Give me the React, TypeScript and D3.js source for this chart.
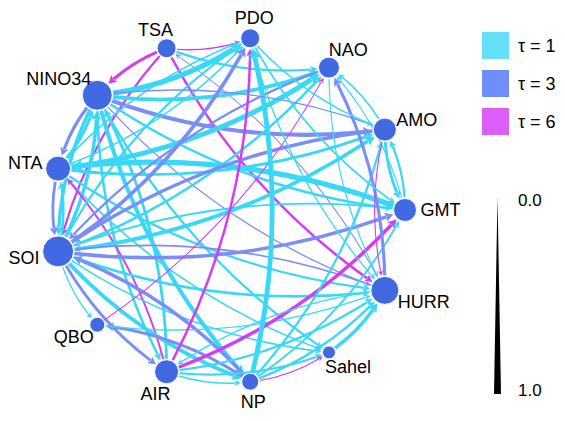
import { useEffect, useRef } from 'react'
import * as d3 from 'd3'

const WIDTH = 565
const HEIGHT = 421
const FONT = '"Liberation Sans", Arial, sans-serif'

// nodes, clockwise starting at 3 o'clock
const nodeNames = ['GMT', 'HURR', 'Sahel', 'NP', 'AIR', 'QBO', 'SOI', 'NTA', 'NINO34', 'TSA', 'PDO', 'NAO', 'AMO']
const nodeSize = [11.5, 14, 6.5, 8.5, 12, 7.5, 15.5, 12.5, 15, 9.5, 9.5, 10.5, 11.5]

const lags = [1, 3, 6]
const lagLabels = ['τ = 1', 'τ = 3', 'τ = 6']
const edgeColors = ['#3ad8f7', '#7b8ef8', '#d63df1']
const legendColors = ['#65dffa', '#6f8efb', '#dc5ef9']
const widthTicks = ['0.0', '1.0']

// [source, target, lag, strength]
const links: [string, string, number, number][] = [
  ['TSA', 'NINO34', 6, 0.45],
  ['TSA', 'PDO', 6, 0.15],
  ['TSA', 'NAO', 1, 0.3],
  ['TSA', 'HURR', 6, 0.35],
  ['TSA', 'SOI', 6, 0.3],
  ['HURR', 'TSA', 3, 0.1],
  ['NINO34', 'NTA', 3, 0.45],
  ['NINO34', 'PDO', 1, 0.8],
  ['NINO34', 'NAO', 1, 0.55],
  ['NINO34', 'AMO', 3, 0.6],
  ['NINO34', 'GMT', 1, 0.35],
  ['NINO34', 'HURR', 3, 0.15],
  ['NINO34', 'NP', 1, 0.6],
  ['NINO34', 'Sahel', 1, 0.3],
  ['NINO34', 'AIR', 1, 0.35],
  ['NINO34', 'SOI', 1, 0.5],
  ['SOI', 'NINO34', 1, 0.5],
  ['AIR', 'NINO34', 1, 0.4],
  ['NTA', 'SOI', 3, 0.4],
  ['SOI', 'NTA', 1, 0.35],
  ['NTA', 'NAO', 1, 0.75],
  ['GMT', 'NTA', 1, 0.8],
  ['NTA', 'AMO', 1, 0.4],
  ['NTA', 'HURR', 1, 0.3],
  ['NTA', 'PDO', 1, 0.2],
  ['NTA', 'NINO34', 1, 0.45],
  ['NTA', 'Sahel', 1, 0.2],
  ['AIR', 'NTA', 6, 0.25],
  ['PDO', 'NTA', 1, 0.2],
  ['SOI', 'PDO', 3, 0.55],
  ['SOI', 'QBO', 1, 0.15],
  ['SOI', 'NP', 1, 0.55],
  ['SOI', 'HURR', 1, 0.35],
  ['SOI', 'GMT', 3, 0.5],
  ['SOI', 'AMO', 1, 0.55],
  ['SOI', 'NAO', 1, 0.35],
  ['SOI', 'AIR', 3, 0.4],
  ['SOI', 'Sahel', 1, 0.2],
  ['AMO', 'SOI', 3, 0.5],
  ['GMT', 'SOI', 1, 0.25],
  ['NP', 'SOI', 3, 0.5],
  ['HURR', 'SOI', 3, 0.2],
  ['NAO', 'SOI', 3, 0.3],
  ['PDO', 'SOI', 1, 0.3],
  ['NP', 'QBO', 3, 0.45],
  ['QBO', 'NAO', 6, 0.1],
  ['QBO', 'HURR', 1, 0.15],
  ['AIR', 'PDO', 6, 0.35],
  ['AIR', 'GMT', 6, 0.5],
  ['AIR', 'HURR', 1, 0.3],
  ['AIR', 'Sahel', 1, 0.3],
  ['AIR', 'NP', 1, 0.2],
  ['HURR', 'AIR', 1, 0.15],
  ['NP', 'PDO', 1, 0.75],
  ['NP', 'Sahel', 6, 0.1],
  ['NP', 'HURR', 1, 0.3],
  ['NP', 'AMO', 1, 0.3],
  ['NP', 'GMT', 1, 0.25],
  ['Sahel', 'HURR', 1, 0.5],
  ['HURR', 'NAO', 3, 0.45],
  ['AMO', 'NAO', 1, 0.2],
  ['GMT', 'NAO', 1, 0.12],
  ['AMO', 'GMT', 1, 0.4],
  ['GMT', 'AMO', 1, 0.3],
  ['AMO', 'HURR', 6, 0.12],
  ['AMO', 'NINO34', 3, 0.15],
  ['PDO', 'HURR', 1, 0.15],
  ['NAO', 'HURR', 1, 0.12],
  ['PDO', 'GMT', 1, 0.2],
  ['PDO', 'AMO', 1, 0.2],
]

const CURVE = 2 // arc radius as a multiple of the chord

export default function App() {
  const svgRef = useRef<SVGSVGElement>(null)

  useEffect(() => {
    const svg = d3.select(svgRef.current)
    svg.selectAll('*').remove()

    const cx = 229
    const cy = 210
    const rx = 176
    const ry = 173

    const angle = d3.scaleLinear().domain([0, nodeNames.length]).range([0, 2 * Math.PI])
    const radius = d3.scaleLinear().domain([0, 1]).range([0, 1])
    const width = d3.scaleLinear().domain([0, 1]).range([0.4, 6.5])
    const color = d3.scaleOrdinal<number, string>().domain(lags).range(edgeColors)

    const nodes = nodeNames.map((name, i) => {
      const a = angle(i)
      return { name, a, r: radius(nodeSize[i]), x: cx + rx * Math.cos(a), y: cy + ry * Math.sin(a) }
    })
    const byName = new Map(nodes.map((n) => [n.name, n]))

    // Edges
    const gEdges = svg.append('g')
    links.forEach(([s, t, lag, v]) => {
      const p0 = byName.get(s)!
      const p1 = byName.get(t)!
      const w = width(v)
      const dx = p1.x - p0.x
      const dy = p1.y - p0.y
      const d = Math.hypot(dx, dy)
      const R = d * CURVE
      const nx = -dy / d
      const ny = dx / d
      const h = Math.sqrt(R * R - (d * d) / 4)
      const ox = (p0.x + p1.x) / 2 - nx * h
      const oy = (p0.y + p1.y) / 2 - ny * h
      const a0 = Math.atan2(p0.y - oy, p0.x - ox)
      const a1 = Math.atan2(p1.y - oy, p1.x - ox)
      let da = a1 - a0
      while (da > Math.PI) da -= 2 * Math.PI
      while (da < -Math.PI) da += 2 * Math.PI
      const sg = Math.sign(da)
      const headLen = 4 + 1.3 * w
      const hw = 1.8 + 0.85 * w
      const pt = (a: number): [number, number] => [ox + R * Math.cos(a), oy + R * Math.sin(a)]
      const tStart = a0 + (sg * (p0.r + 1)) / R
      const tTip = a1 - (sg * (p1.r + 1)) / R
      const tBase = tTip - (sg * headLen) / R
      const [x0, y0] = pt(tStart)
      const [xb, yb] = pt(tBase + (sg * 1) / R)
      const [xt, yt] = pt(tTip)
      const [xh, yh] = pt(tBase)
      const c = color(lag)

      gEdges
        .append('path')
        .attr('d', `M${x0},${y0}A${R},${R} 0 0,${sg > 0 ? 1 : 0} ${xb},${yb}`)
        .attr('fill', 'none')
        .attr('stroke', c)
        .attr('stroke-width', w)

      const ux = (xt - xh) / headLen
      const uy = (yt - yh) / headLen
      gEdges
        .append('path')
        .attr('d', `M${xt},${yt}L${xh - uy * hw},${yh + ux * hw}L${xh + ux * 1.5},${yh + uy * 1.5}L${xh + uy * hw},${yh - ux * hw}Z`)
        .attr('fill', c)
    })

    // Nodes
    svg.append('g')
      .selectAll('circle')
      .data(nodes)
      .join('circle')
      .attr('cx', (n) => n.x)
      .attr('cy', (n) => n.y)
      .attr('r', (n) => n.r)
      .attr('fill', '#4169e1')
      .attr('stroke', '#fff')
      .attr('stroke-width', 1)

    // Node labels
    const ctx = document.createElement('canvas').getContext('2d')!
    ctx.font = `18px ${FONT}`
    svg.append('g')
      .selectAll('text')
      .data(nodes)
      .join('text')
      .attr('x', (n) => n.x + Math.cos(n.a) * (n.r + 4) + (Math.cos(n.a) * ctx.measureText(n.name).width) / 2)
      .attr('y', (n) => n.y + Math.sin(n.a) * (n.r + 5) + Math.sin(n.a) * 6)
      .attr('dy', '0.36em')
      .attr('text-anchor', 'middle')
      .attr('font-family', FONT)
      .attr('font-size', 18)
      .attr('fill', '#000')
      .text((n) => n.name)

    // Colour legend
    const legend = svg.append('g').attr('transform', 'translate(482,32)')
    lagLabels.forEach((label, i) => {
      legend.append('rect')
        .attr('y', i * 38)
        .attr('width', 27)
        .attr('height', 27)
        .attr('fill', legendColors[i])
      legend.append('text')
        .attr('x', 36)
        .attr('y', i * 38 + 14)
        .attr('dy', '0.36em')
        .attr('font-family', FONT)
        .attr('font-size', 18)
        .attr('fill', '#000')
        .text(label)
    })

    // Width legend
    const wy = d3.scaleLinear().domain([0, 1]).range([197, 394])
    const ww = d3.scaleLinear().domain([0, 1]).range([0, 7])
    const lx = 497.5
    svg.append('path')
      .attr('d', `M${lx - ww(0) / 2},${wy(0)}L${lx + ww(0) / 2},${wy(0)}L${lx + ww(1) / 2},${wy(1)}L${lx - ww(1) / 2},${wy(1)}Z`)
      .attr('fill', '#000')
    widthTicks.forEach((t) => {
      svg.append('text')
        .attr('x', 518)
        .attr('y', wy(+t) + (+t === 0 ? 3 : -4))
        .attr('dy', '0.36em')
        .attr('font-family', FONT)
        .attr('font-size', 17)
        .attr('fill', '#000')
        .text(t)
    })
  }, [])

  return (
    <svg
      ref={svgRef}
      width={WIDTH}
      height={HEIGHT}
      style={{ position: 'absolute', left: 0, top: 0, background: '#fff' }}
    />
  )
}
